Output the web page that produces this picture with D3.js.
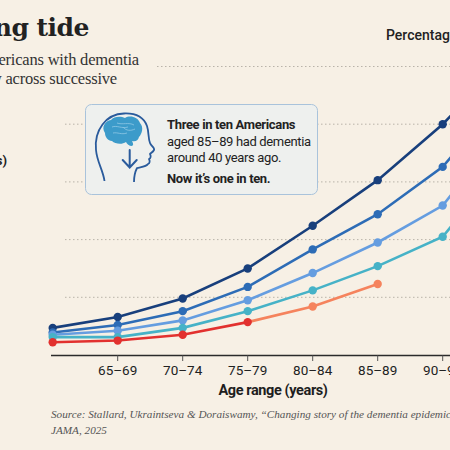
<!DOCTYPE html>
<html>
<head>
<meta charset="utf-8">
<script src="https://cdn.jsdelivr.net/npm/d3@7"></script>
<style>
  html, body { margin: 0; padding: 0; background: #f7f0e5; }
  svg { display: block; }
</style>
</head>
<body>
<div id="chart"></div>
<script>
const width = 450
const height = 450

// age groups along the x axis (first one has no label in the view)
const ageGroups = ["60–64", "65–69", "70–74", "75–79", "80–84", "85–89", "90–94", "95+"]
const tickLabels = ["", "65–69", "70–74", "75–79", "80–84", "85–89", "90–94", "95+"]

// percentage with dementia, oldest generation first
const cohortA = [4.7, 6.6, 9.8, 15.0, 22.4, 30.3, 40.0, 51.8]
const cohortB = [3.9, 5.2, 7.6, 11.8, 18.3, 24.4, 32.6, 45.8]
const cohortC = [3.5, 4.2, 6.0, 9.5, 14.2, 19.5, 25.9, 40.0]
const cohortD = [3.1, 3.1, 4.7, 7.6, 11.2, 15.4, 20.5, 34.1]
const cohortE = [2.2, 2.5, 3.5, 5.7, 8.4, 12.3]

const gridValues = [10, 20, 30, 40, 50]

const series = [
    {name: "A", values: cohortA, color: "#183f7c"},
    {name: "B", values: cohortB, color: "#2d6cb6"},
    {name: "C", values: cohortC, color: "#659de0"},
    {name: "D", values: cohortD, color: "#46b2c7"},
    {name: "E", values: cohortE, color: "#e2312f", late: "#f5835d"}
]

const x = d3.scalePoint()
    .domain(ageGroups)
    .range([52.7, 507.7])

const y = d3.scaleLinear()
    .domain([0, 50])
    .range([355, 66.5])

const sans = "Roboto, sans-serif"

const svg = d3.select("#chart")
    .append("svg")
    .attr("width", width)
    .attr("height", height)
    .attr("viewBox", [0, 0, width, height])

svg.append("rect")
    .attr("width", width)
    .attr("height", height)
    .attr("fill", "#f7f0e5")

// title block, cut off on the left like the reference
svg.append("text")
    .attr("x", 89).attr("y", 36)
    .attr("text-anchor", "end")
    .style("font-family", "'DejaVu Serif', serif")
    .style("font-weight", "bold")
    .style("font-size", "25px")
    .style("letter-spacing", "-0.5px")
    .attr("fill", "#222")
    .text("An ebbing tide")

const subtitle = ["The share of older Americans with dementia", "has fallen steadily across successive"]
svg.selectAll(".subtitle")
    .data(subtitle)
    .join("text")
    .attr("class", "subtitle")
    .attr("x", (d, i) => i === 0 ? 139 : 117)
    .attr("y", (d, i) => 65 + i * 19)
    .attr("text-anchor", "end")
    .style("font-family", "'Liberation Serif', serif")
    .style("font-size", "16.5px")
    .style("letter-spacing", "-0.2px")
    .attr("fill", "#333")
    .text(d => d)

svg.append("text")
    .attr("x", 7).attr("y", 165)
    .attr("text-anchor", "end")
    .style("font-family", sans)
    .style("font-weight", "bold")
    .style("font-size", "13px")
    .attr("fill", "#222")
    .text("Birth cohorts (years)")

svg.append("text")
    .attr("x", 386).attr("y", 40)
    .style("font-family", sans)
    .style("font-weight", "500")
    .style("font-size", "14px")
    .attr("fill", "#222")
    .text("Percentage with dementia")

// gridlines
svg.selectAll(".grid")
    .data(gridValues)
    .join("line")
    .attr("class", "grid")
    .attr("x1", d => d === 50 ? 157 : 65)
    .attr("x2", width)
    .attr("y1", d => y(d))
    .attr("y2", d => y(d))
    .attr("stroke", "#b9b3a9")
    .attr("stroke-width", 1)
    .attr("stroke-dasharray", "1.5,2.5")

// annotation box
const note = svg.append("g")
note.append("rect")
    .attr("x", 85.5).attr("y", 104.5)
    .attr("width", 232).attr("height", 90)
    .attr("rx", 6)
    .attr("fill", "#eef0ee")
    .attr("stroke", "#a9c3db")
    .attr("stroke-width", 1)

// head icon
note.append("path")
    .attr("d", "M104.5,181 C103,170 97,162 96,150 C94,130 106,114 124,113.5 C136,113 144,118 147,126 C149,132 148,138 150,143 C151,146 155,148 154,150 C153,152 151,153 150,154 C151,156 151,158 149,159 C150,161 150,163 148,164 C146,167 140,167 137,168 C135,172 134,177 134,182")
    .attr("fill", "none")
    .attr("stroke", "#2a5b9c")
    .attr("stroke-width", 1.8)
    .attr("stroke-linejoin", "round")
note.append("path")
    .attr("d", "M105,133 C101,127 105,121 111,120 C114,116 121,116 125,118 C130,115 138,117 140,123 C144,127 142,134 139,137 C138,141 135,142 132,141 C133,143 134,145 132,146 C129,146 127,144 126,142 C122,145 115,144 112,141 C108,141 105,137 105,133 Z")
    .attr("fill", "#3c9bca")
note.append("path")
    .attr("d", "M112,127 C117,125 122,129 128,127 M117,123 C122,125 129,122 134,125 M123,127 C126,131 131,131 135,129 M113,133 C118,132 121,135 127,133")
    .attr("fill", "none")
    .attr("stroke", "#8fc8e5")
    .attr("stroke-width", 0.8)
note.append("path")
    .attr("d", "M129.7,150 L129.7,167 M122.7,160 L129.7,167.5 L136.7,160")
    .attr("fill", "none")
    .attr("stroke", "#2a5b9c")
    .attr("stroke-width", 2)
    .attr("stroke-linecap", "round")

const noteLines = [
    {t: "Three in ten Americans", bold: true, y: 129},
    {t: "aged 85–89 had dementia", bold: false, y: 146},
    {t: "around 40 years ago.", bold: false, y: 162},
    {t: "Now it’s one in ten.", bold: true, y: 183}
]
note.selectAll(".note-text")
    .data(noteLines)
    .join("text")
    .attr("class", "note-text")
    .attr("x", 167)
    .attr("y", d => d.y)
    .style("font-family", sans)
    .style("font-size", "13px")
    .style("letter-spacing", "-0.35px")
    .style("font-weight", d => d.bold ? "bold" : "normal")
    .attr("fill", "#222")
    .text(d => d.t)

// x axis
const axisG = svg.append("g")
axisG.append("line")
    .attr("x1", 51).attr("x2", width)
    .attr("y1", 355.5).attr("y2", 355.5)
    .attr("stroke", "#2b2b2b")
    .attr("stroke-width", 1.6)

const ticks = axisG.selectAll(".tick")
    .data(ageGroups.filter((d, i) => tickLabels[i] !== ""))
    .join("g")
    .attr("class", "tick")
    .attr("transform", d => `translate(${x(d)},355.5)`)
ticks.append("line")
    .attr("y2", 5.5)
    .attr("stroke", "#555")
    .attr("stroke-width", 1)
ticks.append("text")
    .attr("y", 19.5)
    .attr("text-anchor", "middle")
    .style("font-family", sans)
    .style("font-size", "13.5px")
    .attr("fill", "#222")
    .text(d => tickLabels[ageGroups.indexOf(d)])

svg.append("text")
    .attr("x", 273).attr("y", 395)
    .attr("text-anchor", "middle")
    .style("font-family", sans)
    .style("font-weight", "bold")
    .style("font-size", "14.5px")
    .style("letter-spacing", "-0.4px")
    .attr("fill", "#1e1e1e")
    .text("Age range (years)")

// source
const source = ["Source: Stallard, Ukraintseva & Doraiswamy, “Changing story of the dementia epidemic”,", "JAMA, 2025"]
svg.selectAll(".source")
    .data(source)
    .join("text")
    .attr("class", "source")
    .attr("x", 51)
    .attr("y", (d, i) => 418 + i * 16)
    .style("font-family", "'Liberation Serif', serif")
    .style("font-style", "italic")
    .style("font-size", "11.2px")
    .attr("fill", "#555")
    .text(d => d)

// lines and dots
const line = d3.line()
    .x(d => x(ageGroups[d.i]))
    .y(d => y(d.v))

const lineG = svg.append("g")
series.forEach(s => {
    const pts = s.values.map((v, i) => ({v, i}))
    if (s.late) {
        // red for the first generations, shifting to orange later on
        lineG.append("path")
            .datum(pts.slice(0, 4))
            .attr("d", line)
            .attr("fill", "none")
            .attr("stroke", s.color)
            .attr("stroke-width", 2.6)
        lineG.append("path")
            .datum(pts.slice(3))
            .attr("d", line)
            .attr("fill", "none")
            .attr("stroke", s.late)
            .attr("stroke-width", 2.6)
    } else {
        lineG.append("path")
            .datum(pts)
            .attr("d", line)
            .attr("fill", "none")
            .attr("stroke", s.color)
            .attr("stroke-width", 2.6)
    }
    lineG.selectAll(null)
        .data(pts)
        .join("circle")
        .attr("cx", d => x(ageGroups[d.i]))
        .attr("cy", d => y(d.v))
        .attr("r", 4.2)
        .attr("fill", d => s.late && d.i > 3 ? s.late : s.color)
})
</script>
</body>
</html>
